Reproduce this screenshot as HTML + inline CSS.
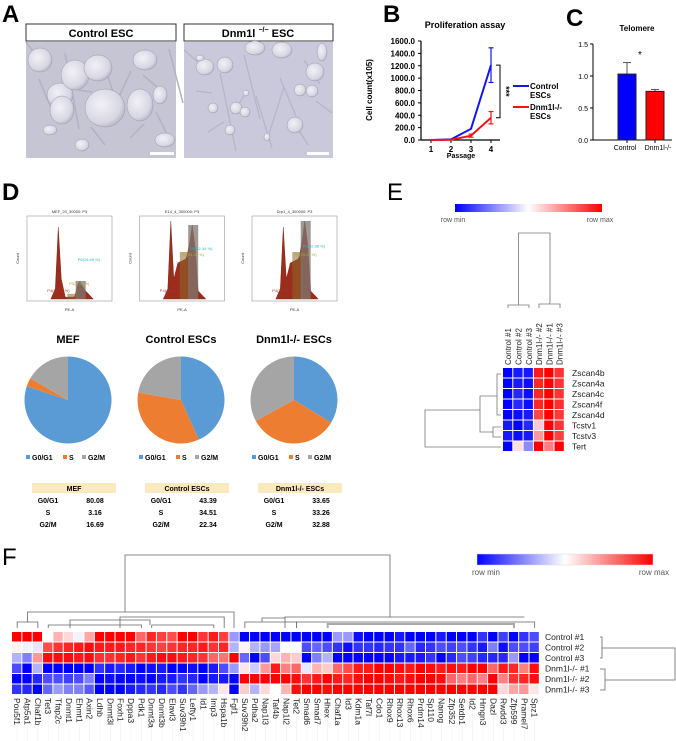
<!DOCTYPE html>
<html><head><meta charset="utf-8"><style>
body{margin:0;background:#fff;width:676px;height:741px;overflow:hidden}
svg{display:block;font-family:"Liberation Sans",Arial,sans-serif}
</style></head><body>
<svg id="fig" width="676" height="741" viewBox="0 0 676 741" xmlns="http://www.w3.org/2000/svg">
<defs>
<linearGradient id="cbar" x1="0" x2="1" y1="0" y2="0"><stop offset="0" stop-color="#0000ff"/><stop offset="0.5" stop-color="#ffffff"/><stop offset="1" stop-color="#ff0000"/></linearGradient>
<radialGradient id="colony" cx="0.4" cy="0.4" r="0.7"><stop offset="0" stop-color="#f2f1f6"/><stop offset="0.7" stop-color="#d8d6e2"/><stop offset="1" stop-color="#a9a7bb"/></radialGradient>
</defs>
<text x="2" y="22" font-size="24" font-weight="bold">A</text>
<text x="383" y="22" font-size="24" font-weight="bold">B</text>
<text x="566" y="26" font-size="24" font-weight="bold">C</text>
<text x="2" y="200" font-size="24" font-weight="bold">D</text>
<text x="387" y="200" font-size="24" font-weight="normal">E</text>
<text x="2" y="565" font-size="24" font-weight="normal">F</text>

<g>
<rect x="26" y="24" width="150" height="17" fill="#fff" stroke="#333" stroke-width="1"/>
<text x="101" y="37" font-size="11" font-weight="bold" text-anchor="middle">Control ESC</text>
<rect x="26" y="42" width="150" height="116" fill="#c6c5d4"/>
<g id="colA1"></g>
<rect x="150" y="152" width="24" height="3" fill="#fff"/>
</g>
<g>
<rect x="184" y="24" width="149" height="17" fill="#fff" stroke="#333" stroke-width="1"/>
<text x="258" y="37" font-size="11" font-weight="bold" text-anchor="middle">Dnm1l <tspan font-size="7" dy="-5">−/−</tspan><tspan dy="5"> ESC</tspan></text>
<rect x="184" y="42" width="149" height="116" fill="#c9c9db"/>
<g id="colA2"></g>
<rect x="307" y="152" width="22" height="3" fill="#fff"/>
</g>

<g id="panelB">
<text x="465" y="28" font-size="9" font-weight="bold" text-anchor="middle">Proliferation assay</text>
<text transform="translate(372,90) rotate(-90)" font-size="8" font-weight="bold" text-anchor="middle">Cell count(x105)</text>
<text x="461" y="158" font-size="7" font-weight="bold" text-anchor="middle">Passage</text>
</g>

<g id="panelC">
<text x="637" y="31" font-size="8" font-weight="bold" text-anchor="middle">Telomere</text>
</g>

<g id="panelD"></g>

<g id="panelE">
<rect x="455" y="204" width="147" height="8" fill="url(#cbar)"/>
<text x="453" y="222" font-size="7" fill="#555" text-anchor="middle">row min</text>
<text x="600" y="222" font-size="7" fill="#555" text-anchor="middle">row max</text>
</g>

<g id="panelF">
<rect x="477" y="554" width="176" height="11" fill="url(#cbar)" stroke="#ddd" stroke-width="0.5"/>
<text x="486" y="575" font-size="8" fill="#555" text-anchor="middle">row min</text>
<text x="654" y="575" font-size="8" fill="#555" text-anchor="middle">row max</text>
</g>
</svg>
<script>
const NS="http://www.w3.org/2000/svg";
function mk(parent,tag,attrs,txt){const e=document.createElementNS(NS,tag);for(const k in attrs)e.setAttribute(k,attrs[k]);if(txt!==undefined)e.textContent=txt;parent.appendChild(e);return e;}
function line(p,x1,y1,x2,y2,c,w){return mk(p,'line',{x1,y1,x2,y2,stroke:c||'#000','stroke-width':w||1});}

const colA1=[[40,60,12,12],[60,95,13,12],[75,75,14,15],[98,68,14,13],[62,110,12,14],[105,108,20,19],[140,105,13,16],[145,60,12,10],[160,95,7,9],[165,140,10,7],[82,145,7,6],[50,130,7,5]];
const colA2=[[205,67,9,8],[225,65,8,8],[255,48,10,7],[282,50,10,8],[315,72,9,9],[300,90,6,6],[312,91,6,6],[213,108,5,5],[236,108,6,6],[245,112,5,5],[295,125,8,8],[230,130,5,5],[267,137,3,4],[246,93,3,3],[200,58,4,3],[322,52,5,9]];
const gA1=document.getElementById('colA1'),gA2=document.getElementById('colA2');
for(let i=0;i<12;i++){line(gA1,26+i*13,42+((i*37)%100),40+i*13,60+((i*53)%90),'#b3b1c3',1.5);}
colA1.forEach(c=>{const e=mk(gA1,'ellipse',{cx:c[0],cy:c[1],rx:c[2],ry:c[3],fill:'url(#colony)',stroke:'#9a98ad','stroke-width':0.5});

});
for(let i=0;i<12;i++){line(gA2,184+i*12,50+((i*41)%100),200+i*12,64+((i*29)%90),'#b5b4c8',1.2);}
colA2.forEach(c=>{const e=mk(gA2,'ellipse',{cx:c[0],cy:c[1],rx:c[2],ry:c[3],fill:'url(#colony)',stroke:'#9a98ad','stroke-width':0.5});

});

const bPassages=[1,2,3,4];
const bControl=[0,10,180,1210];
const bControlErr=[0,0,0,280];
const bDnm=[0,5,70,360];
const bDnmErr=[0,0,25,100];
const bYTicks=[0,200,400,600,800,1000,1200,1400,1600];
const bSeriesNames=['Control ESCs','Dnm1l-/- ESCs'];
const gB=document.getElementById('panelB');
const yB=v=>140-v/1600*99, xB=p=>431+(p-1)*20;
line(gB,421,yB(1600),421,140,'#000',1.2);
line(gB,421,140,500,140,'#000',1.2);
bYTicks.forEach(t=>{line(gB,418,yB(t),421,yB(t));
const tx=mk(gB,'text',{x:415,y:yB(t)+3,'font-size':8,'font-weight':'bold','text-anchor':'end'},t.toFixed(1));

});
bPassages.forEach(p=>{line(gB,xB(p),140,xB(p),143);
const tx=mk(gB,'text',{x:xB(p),y:152,'font-size':8,'font-weight':'bold','text-anchor':'middle'},p);

});
function series(vals,errs,col,name){
 const pts=vals.map((v,i)=>xB(bPassages[i])+','+yB(v)).join(' ');
 const pl=mk(gB,'polyline',{points:pts,fill:'none',stroke:col,'stroke-width':2});
 
 
 vals.forEach((v,i)=>{if(errs[i]>0){const x=xB(bPassages[i]);line(gB,x,yB(v+errs[i]),x,yB(v-errs[i]),col,1.2);line(gB,x-2.5,yB(v+errs[i]),x+2.5,yB(v+errs[i]),col,1.2);line(gB,x-2.5,yB(v-errs[i]),x+2.5,yB(v-errs[i]),col,1.2);}});
}
series(bControl,bControlErr,'#1515f0','line-control');
series(bDnm,bDnmErr,'#f01515','line-dnm1l');
const br=mk(gB,'polyline',{points:`496,${yB(bControl[3])} 500,${yB(bControl[3])} 500,${yB(bDnm[3])} 496,${yB(bDnm[3])}`,fill:'none',stroke:'#000','stroke-width':1});


const st=mk(gB,'text',{transform:`translate(503,${(yB(bControl[3])+yB(bDnm[3]))/2}) rotate(90)`,'font-size':9,'font-weight':'bold','text-anchor':'middle'},'***');


[[bSeriesNames[0],'#1515f0',88],[bSeriesNames[1],'#f01515',109]].forEach(l=>{
 const g=mk(gB,'g',{});
 
 
 line(g,513,l[2]-2,529,l[2]-2,l[1],2);
 const parts=l[0].split(' ');
 mk(g,'text',{x:530,y:l[2]+1,'font-size':8,'font-weight':'bold'},parts[0]);
 mk(g,'text',{x:530,y:l[2]+10,'font-size':8,'font-weight':'bold'},parts[1]);
});

const cGroups=['Control','Dnm1l-/-'];
const cValues=[1.03,0.76];
const cErr=[0.18,0.03];
const cTicks=[0,0.5,1.0,1.5];
const cColors=['#0000ff','#ff0000'];
const gC=document.getElementById('panelC');
const yC=v=>140-v/1.5*96;
line(gC,593,yC(1.5),593,140,'#000',1);
line(gC,593,140,672,140,'#000',1);
cTicks.forEach(t=>{line(gC,590,yC(t),593,yC(t));
const tx=mk(gC,'text',{x:588,y:yC(t)+3,'font-size':7,'text-anchor':'end'},t.toFixed(1));

});
cValues.forEach((v,i)=>{const x0=618+i*28;
 line(gC,x0+9,yC(v),x0+9,yC(v+cErr[i]),'#555',1);line(gC,x0+5,yC(v+cErr[i]),x0+13,yC(v+cErr[i]),'#555',1);
 const r=mk(gC,'rect',{x:x0,y:yC(v),width:18,height:140-yC(v),fill:cColors[i],stroke:'#222','stroke-width':1});
 
 
 line(gC,x0+9,140,x0+9,143);
 const tx=mk(gC,'text',{x:x0+9+(i?3:-2),y:150,'font-size':7,'text-anchor':'middle'},cGroups[i]);
 
 });
const cs=mk(gC,'text',{x:640,y:58,'font-size':10,'text-anchor':'middle'},'*');



const dSamples=['MEF','Control ESCs','Dnm1l-/- ESCs'];
const dPhases=['G0/G1','S','G2/M'];
const dG1=[80.08,43.39,33.65];
const dS=[3.16,34.51,33.26];
const dG2M=[16.69,22.34,32.88];
const dHistTitles=['MEF_20_30000: P3','E14_4_300000: P3','Drp1_4_300000: P3'];
const gD=document.getElementById('panelD');
const pieColors=['#5b9bd5','#ed7d31','#a5a5a5'];
dSamples.forEach((s,k)=>{
 const hx=27+k*112.5,hy=216,hw=85,hh=85;
 const hg=mk(gD,'g',{});
 
 
 mk(hg,'text',{x:hx+hw/2,y:hy-3,'font-size':4,'text-anchor':'middle',fill:'#333'},dHistTitles[k]);
 mk(hg,'rect',{x:hx,y:hy,width:hw,height:hh,fill:'#fff',stroke:'#999','stroke-width':0.6});
 mk(hg,'text',{x:hx+hw/2,y:hy+hh+10,'font-size':4,'text-anchor':'middle',fill:'#333'},'PE-A');
 mk(hg,'text',{transform:`translate(${hx-8},${hy+hh/2}) rotate(-90)`,'font-size':4,'text-anchor':'middle',fill:'#333'},'Count');
 const b=hy+hh-2,g1x=hx+0.38*hw,g2x=hx+0.62*hw;
 const g1h=k===0?72:k===1?78:72, g2h=k===0?18:k===1?74:78;
 const valley=k===0?2:k===1?40:40;
 const px=[[hx+0.28*hw,b],[g1x-4,b-10],[g1x-1,b-g1h],[g1x+2,b-20],[g1x+6,b-valley*0.9],[g1x+14,b-valley],[g2x-5,b-valley*1.1],[g2x-2,b-g2h*0.8],[g2x,b-g2h],[g2x+3,b-g2h*0.7],[g2x+6,b-8],[hx+0.78*hw,b]];
 mk(hg,'polygon',{points:px.map(p=>p.join(',')).join(' '),fill:'#9c2c1c',stroke:'#6e1e10','stroke-width':0.4});
 mk(hg,'rect',{x:g1x+8,y:b-valley*1.1-3,width:g2x-g1x-10,height:valley*1.1+3,fill:'#8a6a2a',opacity:0.55});
 mk(hg,'rect',{x:g2x-4,y:b-g2h,width:10,height:g2h,fill:'#7d7770',opacity:0.75});
 mk(hg,'text',{x:g1x-12,y:b-7,'font-size':4,fill:'#a33'},'P4('+dG1[k].toFixed(2)+' %)');
 mk(hg,'text',{x:g1x+10,y:b-(k?valley+3:14),'font-size':4,fill:'#aa3'},'P5('+dS[k].toFixed(2)+' %)');
 mk(hg,'text',{x:g2x-2,y:b-(k?g2h*0.66:38),'font-size':4,fill:'#2bb'},'P6('+dG2M[k].toFixed(2)+' %)');
 const cx=68+k*113,cy=400,r=43.5;
 const t=mk(gD,'text',{x:cx,y:343,'font-size':11,'font-weight':'bold','text-anchor':'middle'},s);
 
 
 const vals=[dG1[k],dS[k],dG2M[k]],tot=vals[0]+vals[1]+vals[2];
 let a0=-Math.PI/2;
 vals.forEach((v,i)=>{const a1=a0+v/tot*2*Math.PI;const large=(a1-a0)>Math.PI?1:0;
  const p=mk(gD,'path',{d:`M${cx},${cy} L${cx+r*Math.cos(a0)},${cy+r*Math.sin(a0)} A${r},${r} 0 ${large} 1 ${cx+r*Math.cos(a1)},${cy+r*Math.sin(a1)} Z`,fill:pieColors[i]});
  
  
  a0=a1;});
 const lg=mk(gD,'g',{});
 
 
 const lx=cx-41;
 [[0,'G0/G1'],[37,'S'],[56,'G2/M']].forEach((e,i)=>{mk(lg,'rect',{x:lx+e[0]-1,y:455,width:4,height:4,fill:pieColors[i]});mk(lg,'text',{x:lx+e[0]+5,y:460,'font-size':7,'font-weight':'bold'},e[1]);});
 const tx0=32+k*113;
 const tg=mk(gD,'g',{});
 
 
 mk(tg,'rect',{x:tx0,y:483,width:84,height:10,fill:'#fde9c0'});
 mk(tg,'text',{x:tx0+42,y:491,'font-size':7,'font-weight':'bold','text-anchor':'middle'},s);
 dPhases.forEach((ph,i)=>{mk(tg,'text',{x:tx0+16,y:503+i*12,'font-size':7,'font-weight':'bold','text-anchor':'middle'},ph);
  mk(tg,'text',{x:tx0+63,y:503+i*12,'font-size':7,'font-weight':'bold','text-anchor':'middle'},vals[i].toFixed(2));});
});

function hc(z){z=Math.max(-1,Math.min(1,z));if(z<0){const c=Math.round(255*(1+z));return `rgb(${c},${c},255)`;}const c=Math.round(255*(1-z));return `rgb(255,${c},${c})`;}

const eSamples=['Control #1','Control #2','Control #3','Dnm1l-/- #2','Dnm1l-/- #1','Dnm1l-/- #3'];
const eGenes=['Zscan4b','Zscan4a','Zscan4c','Zscan4f','Zscan4d','Tcstv1','Tcstv3','Tert'];
const eZscan4b=[-1,-0.9,-0.9,0.9,1,0.8];
const eZscan4a=[-1,-0.9,-0.95,0.85,1,0.8];
const eZscan4c=[-1,-0.85,-0.95,0.85,1,0.8];
const eZscan4f=[-1,-0.85,-0.95,0.85,1,0.82];
const eZscan4d=[-1,-0.95,-0.9,0.72,1,0.78];
const eTcstv1=[-0.9,-1,-0.85,0.2,1,0.8];
const eTcstv3=[-0.9,-0.95,-0.9,0.4,1,0.75];
const eTert=[-1,0.12,-0.45,1,0.5,1];
const eRows=[eZscan4b,eZscan4a,eZscan4c,eZscan4f,eZscan4d,eTcstv1,eTcstv3,eTert];
const gE=document.getElementById('panelE');
const eX0=503,eY0=368,eW=10.3,eH=10.5;
eRows.forEach((row,r)=>{row.forEach((z,c)=>{
 const cell=mk(gE,'rect',{x:eX0+c*eW,y:eY0+r*eH,width:eW-1,height:eH-1,fill:hc(z)});
 
 });
 const t=mk(gE,'text',{x:572,y:eY0+r*eH+8,'font-size':8.5,fill:'#222'},eGenes[r]);
 
 });
eSamples.forEach((s,c)=>{const x=eX0+c*eW+eW/2+3;
 const t=mk(gE,'text',{transform:`translate(${x},365) rotate(-90)`,'font-size':8,fill:'#222'},s);
 
 });
const eDen=mk(gE,'g',{stroke:'#777','stroke-width':0.8,fill:'none'});


mk(eDen,'polyline',{points:'518.5,303 518.5,233 550,233 550,303'});
mk(eDen,'polyline',{points:'508,308 508,305 529,305 529,308'});
mk(eDen,'polyline',{points:'518.5,305 518.5,303'});
mk(eDen,'polyline',{points:'539,308 539,304 560,304 560,308'});
mk(eDen,'polyline',{points:'549.5,304 549.5,303'});
const eRD=mk(gE,'g',{stroke:'#777','stroke-width':0.8,fill:'none'});


mk(eRD,'polyline',{points:'501,374 497,374 497,415 501,415'});
mk(eRD,'polyline',{points:'501,427 493,427 493,437 501,437'});
mk(eRD,'polyline',{points:'497,396 480,396 480,432 493,432'});
mk(eRD,'polyline',{points:'480,410 425,410 425,447 501,447'});

const fSamples=['Control #1','Control #2','Control #3','Dnm1l-/- #1','Dnm1l-/- #2','Dnm1l-/- #3'];
const fGenes=['Pou5f1','Atp5a1','Chaf1b','Tet3','Tfap2c','Dnmt1','Ehmt1','Axin2','Ldhb','Dnmt3l','Foxh1','Dppa3','Pdk1','Dnmt3a','Dnmt3b','Elavl3','Suv39h1','Lefty1','Id1','Imp3','Hspa1b','Fgf1','Suv39h2','Pdha2','Nap1l3','Taf4b','Nap1l2','Tet2','Smad6','Smad7','Hhex','Chaf1a','Id3','Kdm1a','Taf7l','Cdo1','Rhox9','Rhox13','Rhox6','Prdm14','Sp110','Nanog','Zfp352','Setdb1','Id2','Hmgn3','Dazl','Rwdd3','Zfp599','Pramel7','Spz1'];
const fControl1=[1,1,1,0,0.3,0.15,-0.05,0.35,1,1,1,1,0.6,0.85,0.75,0.7,1,1,0.8,0.9,0.75,-0.4,-1,-1,-1,-1,-1,-1,-1,-1,-1,-0.4,-0.4,-0.95,-1,-1,-1,-0.9,-1,-1,-1,-0.9,-1,-1,-1,-0.8,-1,-0.75,-1,-0.8,-0.7];
const fControl2=[0.05,-0.05,-0.1,0.7,0.8,0.85,0.9,0.95,0.9,0.9,0.9,0.85,0.85,0.8,0.75,0.8,0.85,0.85,0.9,0.8,0.85,-0.3,0.05,-0.3,-0.4,-0.35,0,0,-0.7,-0.6,-0.7,-0.8,-0.95,-0.8,-0.8,-0.85,-0.8,-0.8,-0.6,-0.85,-0.8,-0.7,-0.75,-0.7,-0.8,-0.9,-0.5,-0.95,-0.7,-0.7,-0.75];
const fControl3=[-0.3,-0.5,0.4,0.95,0.95,0.95,0.9,0.95,0.8,0.8,0.85,0.9,0.8,0.9,0.95,0.95,0.9,0.85,0.8,0.6,0.55,1,-0.6,-1,-0.7,0.15,0.3,0.2,-1,-0.5,-0.3,-1,-1,-1,-1,-1,-1,-0.9,-0.9,-0.9,-0.8,-1,-0.85,-0.7,-0.75,-0.85,-0.85,-0.85,-0.4,-1,-1];
const fDnm1=[-0.7,-1,-0.3,-1,-1,-1,-1,-1,-0.8,-0.9,-0.85,-0.9,-1,-0.95,-0.9,-1,-1,-0.95,-1,-0.9,-0.7,-0.4,0.1,-0.2,0.4,0.9,0.5,0.6,-0.1,0.3,0.2,0.6,0.7,0.9,0.9,1,1,0.95,0.9,1,0.95,0.9,0.95,0.9,1,1,0.6,0.9,0.85,0.5,0.95];
const fDnm2=[-1,-1,-0.85,-0.7,-0.7,-0.75,-0.7,-0.5,-1,-0.95,-1,-1,-0.95,-1,-0.9,-0.9,-0.8,-0.85,-1,-0.9,-0.9,-1,1,1,1,1,1,0.95,0.8,0.9,1,0.9,0.85,0.95,1,1,0.95,0.9,0.95,1,1,0.95,0.6,0.5,0.6,0.5,1,0.5,0.8,0.85,0.95];
const fDnm3=[-0.8,-0.85,-1,-0.6,-0.4,-0.5,-0.5,-0.65,-1,-1,-1,-0.9,-0.85,-0.8,-0.85,-0.7,-0.8,-0.6,-0.4,-0.3,0.1,-1,0.2,-0.3,0.15,0,0.3,0.95,1,1,0.95,1,1,1,1,1,1,1,1,1,1,1,1,1,1,1,1,0.15,0.35,0.4,0.1];
const fRows=[fControl1,fControl2,fControl3,fDnm1,fDnm2,fDnm3];
const gF=document.getElementById('panelF');
const fX0=12,fY0=632,fW=10.35,fH=10.5;
fRows.forEach((row,r)=>{row.forEach((z,c)=>{
 const cell=mk(gF,'rect',{x:fX0+c*fW,y:fY0+r*fH,width:fW-1,height:fH-1,fill:hc(z)});
 
 });
 const t=mk(gF,'text',{x:545,y:fY0+r*fH+8,'font-size':8.5,fill:'#222'},fSamples[r]);
 
 });
fGenes.forEach((g,c)=>{const x=fX0+c*fW+fW/2-3;
 line(gF,x+3,698,x+3,741,'#f0f0f0',0.6);
 const t=mk(gF,'text',{transform:`translate(${x},698) rotate(90)`,'font-size':8.5,fill:'#222'},g);
 
 });
const fD=mk(gF,'g',{stroke:'#666','stroke-width':0.8,fill:'none'});


const cxF=i=>fX0+i*fW+fW/2;
mk(fD,'polyline',{points:`125,612 125,555 390,555 390,617`});
mk(fD,'polyline',{points:`${cxF(1)},622 ${cxF(1)},612 234,612 234,628`});
mk(fD,'polyline',{points:`${cxF(0)},628 ${cxF(0)},622 ${cxF(2)},622 ${cxF(2)},628`});
mk(fD,'polyline',{points:`120,628 120,617 ${cxF(20)},617 ${cxF(20)},628`});
mk(fD,'polyline',{points:`70,628 70,620 150,620 150,625`});
mk(fD,'polyline',{points:`${cxF(3)},628 ${cxF(3)},625 ${cxF(12)},625 ${cxF(12)},628`});
mk(fD,'polyline',{points:`${cxF(13)},628 ${cxF(13)},625 ${cxF(19)},625 ${cxF(19)},628`});
mk(fD,'polyline',{points:`285,628 285,617 ${cxF(49)},617`});
mk(fD,'polyline',{points:`${cxF(22)},628 ${cxF(22)},622 ${cxF(27)},622 ${cxF(27)},628`});
mk(fD,'polyline',{points:`262,622 262,618 285,618`});
mk(fD,'polyline',{points:`${cxF(27)},628 ${cxF(27)},622 ${cxF(50)},622 ${cxF(50)},628`});
mk(fD,'polyline',{points:`${cxF(30)},628 ${cxF(30)},624 ${cxF(48)},624 ${cxF(48)},628`,stroke:'#aaa','stroke-width':2});
const fR=mk(gF,'g',{stroke:'#666','stroke-width':0.8,fill:'none'});


mk(fR,'polyline',{points:'600,637 602,637 602,658 600,658'});
mk(fR,'polyline',{points:'600,669 605,669 605,690 600,690'});
mk(fR,'polyline',{points:'602,648 675,648 675,680 605,680'});
</script>
</body></html>
